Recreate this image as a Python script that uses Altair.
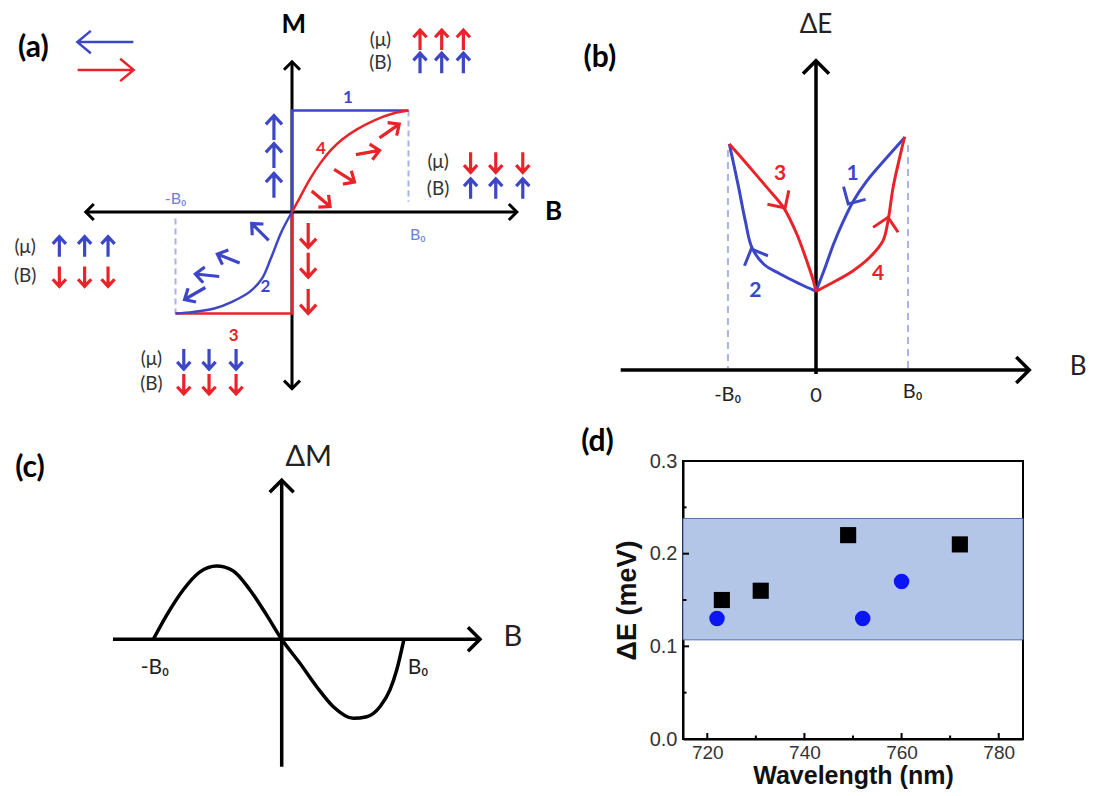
import altair as alt
import pandas as pd

BLUE = "#3d47c6"
RED = "#e8232a"
LIGHT = "#a9b4e4"
LIGHT_TXT = "#6f80d2"
INK = "#222222"
SANS = "Lato"
AXF = "Liberation Sans"

# ---------------- panel (a): M(B) hysteresis (units: B/B0, M/Ms) ----------------
A_AXIS_B = [-1.77, 1.93]
A_AXIS_M = [-1.74, 1.48]
A_BRANCH1_B = [0, 0, 1]
A_BRANCH1_M = [0, 1, 1]
A_BRANCH3_B = [0, 0, -1]
A_BRANCH3_M = [0, -1, -1]
A_BRANCH4_B = [0, 0.062, 0.155, 0.248, 0.341, 0.433, 0.557, 0.712, 0.867, 1.0]
A_BRANCH4_M = [0, 0.13, 0.326, 0.489, 0.619, 0.717, 0.814, 0.906, 0.97, 1.0]
A_BRANCH2_B = [0, -0.091, -0.182, -0.258, -0.364, -0.515, -0.667, -0.848, -1.0]
A_BRANCH2_M = [0, -0.197, -0.459, -0.656, -0.787, -0.885, -0.951, -0.984, -1.0]
A_DASH_B = [1, 1, -1, -1]
A_DASH_M = [1.0, 0.1, -0.065, -1.0]
A_DASH_ID = [0, 0, 1, 1]
A_RED_ARROW_B = [0.248, 0.449, 0.65, 0.836]
A_RED_ARROW_M = [0.13, 0.358, 0.586, 0.798]
A_RED_ARROW_ANG = [40, 32, 350, 325]
A_BLUE_ARROW_B = [-0.273, -0.545, -0.727, -0.833]
A_BLUE_ARROW_M = [-0.197, -0.459, -0.623, -0.803]
A_BLUE_ARROW_ANG = [225, 202, 186, 150]
A_UP_B = [-0.155, -0.155, -0.155]
A_UP_M = [0.83, 0.554, 0.26]
A_DOWN_B = [0.139, 0.139, 0.139]
A_DOWN_M = [-0.228, -0.521, -0.879]
A_NOTE_X = [0.759, 1.254, -2.291, -1.207]
A_NOTE_MU_Y = [1.694, 0.489, -0.342, -1.449]
A_NOTE_B_Y = [1.466, 0.228, -0.635, -1.694]
A_NOTE_ARROW_X = [[1.099, 1.285, 1.471], [1.533, 1.749, 1.981],
                  [-1.997, -1.78, -1.579], [-0.929, -0.712, -0.48]]
A_NOTE_MU_DIR = ["up", "down", "up", "down"]
A_NOTE_MU_COL = [RED, RED, BLUE, BLUE]
A_NOTE_B_DIR = ["up", "up", "down", "down"]
A_NOTE_B_COL = [BLUE, BLUE, RED, RED]
A_LEGEND_B = [-1.602, -1.6]
A_LEGEND_M = [1.674, 1.4]
A_LEGEND_DIR = ["left", "right"]
A_LEGEND_COL = [BLUE, RED]
A_NUM_TXT = ["1", "4", "2", "3"]
A_NUM_B = [0.48, 0.248, -0.227, -0.5]
A_NUM_M = [1.12, 0.619, -0.738, -1.22]
A_NUM_COL = [BLUE, RED, BLUE, RED]

# ---------------- panel (b): dE(B) ----------------
B_AXIS_B = [-2.123, 2.318]
B_AXIS_E = [-0.04, 3.093]
B_BR1_B = [0.964, 0.765, 0.549, 0.404, 0.296, 0.188, 0.097, 0]
B_BR1_E = [2.326, 2.12, 1.886, 1.686, 1.486, 1.253, 1.019, 0.787]
B_BR4_B = [0, 0.188, 0.404, 0.585, 0.729, 0.783, 0.838, 0.91, 0.964]
B_BR4_E = [0.787, 0.877, 0.993, 1.127, 1.293, 1.493, 1.826, 2.126, 2.333]
B_BR3_B = [-0.942, -0.751, -0.534, -0.354, -0.209, -0.101, -0.029, 0]
B_BR3_E = [2.26, 2.06, 1.826, 1.626, 1.36, 1.093, 0.893, 0.787]
B_BR2_B = [0, -0.173, -0.39, -0.57, -0.697, -0.769, -0.841, -0.895, -0.942]
B_BR2_E = [0.787, 0.86, 0.96, 1.06, 1.226, 1.493, 1.826, 2.06, 2.26]
B_DASH_B = [-0.957, -0.957, 1.0, 1.0]
B_DASH_E = [2.2, 0.02, 2.25, 0.02]
B_DASH_ID = [0, 0, 1, 1]
B_CHEV_B = [-0.336, 0.35, 0.783, -0.704]
B_CHEV_E = [1.62, 1.66, 1.527, 1.21]
B_CHEV_ANG = [57, 120, 281, 247]
B_CHEV_COL = [RED, BLUE, RED, BLUE]
B_NUM_TXT = ["3", "1", "2", "4"]
B_NUM_B = [-0.39, 0.397, -0.66, 0.675]
B_NUM_E = [1.96, 1.96, 0.793, 0.96]
B_NUM_COL = [RED, BLUE, BLUE, RED]
B_TICK_TXT = ["-B₀", "0", "B₀"]
B_TICK_B = [-0.96, 0.0, 1.05]
B_TICK_E = [-0.25, -0.26, -0.22]

# ---------------- panel (c): dM(B) ----------------
C_AXIS_B = [-1.35, 1.586]
C_AXIS_M = [-1.74, 2.17]
C_CURVE_B = [-1.027, -0.92, -0.79, -0.654, -0.52, -0.39, -0.254, -0.12, 0, 0.146,
             0.28, 0.413, 0.573, 0.68, 0.786, 0.866, 0.92, 0.978]
C_CURVE_M = [0, 0.33, 0.67, 0.92, 1.0, 0.936, 0.673, 0.33, 0, -0.327,
             -0.647, -0.92, -1.078, -1.056, -0.92, -0.69, -0.419, 0]

# ---------------- panel (d): measured splitting ----------------
D_SQ_WL = [723, 731, 749, 772]
D_SQ_DE = [0.15, 0.16, 0.22, 0.21]
D_CI_WL = [722, 752, 760]
D_CI_DE = [0.13, 0.13, 0.17]
D_BAND = [0.107, 0.238]
D_XTICKS = [720, 740, 760, 780]
D_XMINOR = [730, 750, 770]
D_YTICKS = [0.0, 0.1, 0.2, 0.3]
D_YINNER = [0.1, 0.2]
D_YMINOR = [0.05, 0.15, 0.25]

ANG = {"up": 270, "down": 90, "left": 180, "right": 0}
ARROW = "M-1,0L1,0M0.28,-0.66L1,0L0.28,0.66"
LEG_ARROW = "M-1,0L1,0M0.52,-0.4L1,0L0.52,0.4"
CHEV = "M-1,-1L0,0L-1,1"


def scales(w, h, ox, oy, ux, uy):
    sx = alt.Scale(domain=[-ox / ux, (w - ox) / ux], nice=False, zero=False)
    sy = alt.Scale(domain=[-(h - oy) / uy, oy / uy], nice=False, zero=False)
    return sx, sy


def enc(sx, sy):
    return dict(x=alt.X("x:Q", scale=sx, axis=None), y=alt.Y("y:Q", scale=sy, axis=None))


def line(xs, ys, sx, sy, color, width=3, interp="linear", dash=None, ids=None):
    df = pd.DataFrame({"x": xs, "y": ys, "i": list(range(len(xs))),
                       "g": ids if ids is not None else [0] * len(xs)})
    kw = dict(color=color, strokeWidth=width, interpolate=interp)
    if dash:
        kw["strokeDash"] = dash
    return alt.Chart(df).mark_line(**kw).encode(**enc(sx, sy), order="i:Q", detail="g:N")


def marks(xs, ys, angs, cols, sx, sy, shape, size, width=3):
    df = pd.DataFrame({"x": xs, "y": ys, "a": angs, "c": cols})
    return alt.Chart(df).mark_point(shape=shape, filled=False, size=size, strokeWidth=width,
                                    opacity=1, strokeJoin="miter").encode(
        **enc(sx, sy), angle=alt.Angle("a:Q", scale=None), color=alt.Color("c:N", scale=None))


def texts(ts, xs, ys, cols, sx, sy, size, weight="normal", font=SANS, align="center"):
    df = pd.DataFrame({"x": xs, "y": ys, "t": ts, "c": cols})
    return alt.Chart(df).mark_text(font=font, fontSize=size, fontWeight=weight, align=align,
                                   baseline="middle").encode(
        **enc(sx, sy), text="t:N", color=alt.Color("c:N", scale=None))


def axes(hx, vy, sx, sy, heads, hsize, width=3):
    hl = line(hx, [0, 0], sx, sy, "black", width)
    vl = line([0, 0], vy, sx, sy, "black", width)
    hxs = [p[0] for p in heads]
    hys = [p[1] for p in heads]
    ha = [p[2] for p in heads]
    return [hl, vl, marks(hxs, hys, ha, ["black"] * len(heads), sx, sy, CHEV, hsize, width)]


# grid: left column 675 px wide, right column 405 px; top row 451 px, bottom row 278 px
LW, RW = 675, 405
TH, BH_ = 451, 278

# ---------- panel (a) ----------
sxa, sya = scales(LW, TH, 284, 202, 116.5, 101.5)
note_tx, note_ty, note_tt = [], [], []
na_x, na_y, na_a, na_c = [], [], [], []
for k in range(4):
    note_tt += ["(μ)", "(B)"]
    note_tx += [A_NOTE_X[k], A_NOTE_X[k]]
    note_ty += [A_NOTE_MU_Y[k], A_NOTE_B_Y[k]]
    for xa in A_NOTE_ARROW_X[k]:
        na_x += [xa, xa]
        na_y += [A_NOTE_MU_Y[k], A_NOTE_B_Y[k]]
        na_a += [ANG[A_NOTE_MU_DIR[k]], ANG[A_NOTE_B_DIR[k]]]
        na_c += [A_NOTE_MU_COL[k], A_NOTE_B_COL[k]]

layers_a = []
layers_a += axes(A_AXIS_B, A_AXIS_M, sxa, sya,
                 [(A_AXIS_B[0], 0, 180), (A_AXIS_B[1], 0, 0), (0, A_AXIS_M[0], 90), (0, A_AXIS_M[1], 270)],
                 256, 3)
layers_a += [
    line(A_DASH_B, A_DASH_M, sxa, sya, LIGHT, 2, dash=[6, 4], ids=A_DASH_ID),
    line(A_BRANCH1_B, A_BRANCH1_M, sxa, sya, BLUE, 2.5),
    line(A_BRANCH3_B, A_BRANCH3_M, sxa, sya, RED, 2.5),
    line(A_BRANCH4_B, A_BRANCH4_M, sxa, sya, RED, 2.5, interp="catmull-rom"),
    line(A_BRANCH2_B, A_BRANCH2_M, sxa, sya, BLUE, 2.5, interp="catmull-rom"),
    marks(A_RED_ARROW_B, A_RED_ARROW_M, A_RED_ARROW_ANG, [RED] * 4, sxa, sya, ARROW, 576, 3.2),
    marks(A_BLUE_ARROW_B, A_BLUE_ARROW_M, A_BLUE_ARROW_ANG, [BLUE] * 4, sxa, sya, ARROW, 576, 3.2),
    marks(A_UP_B, A_UP_M, [270] * 3, [BLUE] * 3, sxa, sya, ARROW, 600, 3.2),
    marks(A_DOWN_B, A_DOWN_M, [90] * 3, [RED] * 3, sxa, sya, ARROW, 600, 3.2),
    marks(na_x, na_y, na_a, na_c, sxa, sya, ARROW, 400, 3.2),
    marks(A_LEGEND_B, A_LEGEND_M, [ANG[d] for d in A_LEGEND_DIR], A_LEGEND_COL, sxa, sya,
          LEG_ARROW, 3136, 2.5),
    texts(note_tt, note_tx, note_ty, ["#333333"] * 8, sxa, sya, 19),
    texts(A_NUM_TXT, A_NUM_B, A_NUM_M, A_NUM_COL, sxa, sya, 17, "bold"),
    texts(["-B₀", "B₀"], [-1.0, 1.08], [0.13, -0.228], [LIGHT_TXT] * 2, sxa, sya, 16),
    texts(["M", "B"], [0.015, 2.245], [1.84, 0.0], ["black"] * 2, sxa, sya, 26, "bold"),
    texts(["(a)"], [-2.22], [1.616], ["black"], sxa, sya, 30, "bold"),
]
panel_a = alt.layer(*layers_a).properties(width=LW, height=TH)

# ---------- panel (b) ----------
sxb, syb = scales(RW, TH, 133, 360, 92, 100)
layers_b = []
layers_b += [line(B_DASH_B, B_DASH_E, sxb, syb, LIGHT, 2, dash=[7, 5], ids=B_DASH_ID)]
layers_b += axes(B_AXIS_B, B_AXIS_E, sxb, syb, [(B_AXIS_B[1], 0, 0), (0, B_AXIS_E[1], 270)], 676, 3.5)
layers_b += [
    line(B_BR1_B, B_BR1_E, sxb, syb, BLUE, 3, interp="catmull-rom"),
    line(B_BR2_B, B_BR2_E, sxb, syb, BLUE, 3, interp="catmull-rom"),
    line(B_BR3_B, B_BR3_E, sxb, syb, RED, 3, interp="catmull-rom"),
    line(B_BR4_B, B_BR4_E, sxb, syb, RED, 3, interp="catmull-rom"),
    marks(B_CHEV_B, B_CHEV_E, B_CHEV_ANG, B_CHEV_COL, sxb, syb, CHEV, 650, 3),
    texts(B_NUM_TXT, B_NUM_B, B_NUM_E, B_NUM_COL, sxb, syb, 21, "bold"),
    texts(B_TICK_TXT, B_TICK_B, B_TICK_E, [INK] * 3, sxb, syb, 20),
    texts(["ΔE", "B"], [0.0, 2.85], [3.45, 0.03], [INK] * 2, sxb, syb, 26),
    texts(["(b)"], [-2.35], [3.12], ["black"], sxb, syb, 30, "bold"),
]
panel_b = alt.layer(*layers_b).properties(width=RW, height=TH)

# ---------- panel (c) ----------
sxc, syc = scales(LW, BH_, 273.7, 178.3, 125, 73.3)
layers_c = axes(C_AXIS_B, C_AXIS_M, sxc, syc, [(C_AXIS_B[1], 0, 0), (0, C_AXIS_M[1], 270)], 576, 3.5)
layers_c += [
    line(C_CURVE_B, C_CURVE_M, sxc, syc, "black", 3.5, interp="monotone"),
    texts(["-B₀", "B₀"], [-1.014, 1.09], [-0.39, -0.39], [INK] * 2, sxc, syc, 21),
    texts(["ΔM", "B"], [0.216, 1.85], [2.49, 0.03], [INK] * 2, sxc, syc, 29),
    texts(["(c)"], [-2.014], [2.34], ["black"], sxc, syc, 30, "bold"),
]
panel_c = alt.layer(*layers_c).properties(width=LW, height=BH_)

# ---------- panel (d) ----------
DW, DH = 340, BH_
xs = alt.Scale(domain=[715, 785], nice=False, zero=False)
ys = alt.Scale(domain=[0, 0.3], nice=False, zero=False)
xax = alt.Axis(values=D_XTICKS, ticks=False, grid=False, domainColor="black", domainWidth=2,
               labelFont=AXF, labelFontSize=19, labelColor="#333333", labelPadding=4,
               title="Wavelength (nm)", titleFont=AXF, titleFontSize=25, titleFontWeight="bold",
               titleColor="#111111", titlePadding=1)
yax = alt.Axis(values=D_YTICKS, format=".1f", ticks=False, grid=False, domainColor="black",
               domainWidth=2, labelFont=AXF, labelFontSize=20, labelColor="#333333", labelPadding=6,
               title="ΔE (meV)", titleFont=AXF, titleFontSize=27, titleFontWeight="bold",
               titleColor="#111111", titlePadding=8)


def dxy(df_x, df_y):
    return dict(x=alt.X(df_x, scale=xs, axis=xax), y=alt.Y(df_y, scale=ys, axis=yax))


band = alt.Chart(pd.DataFrame({"lo": [D_BAND[0]], "hi": [D_BAND[1]]})).mark_rect(
    fill="#b4c6e7", stroke="#4f6fae", strokeWidth=1).encode(
    y=alt.Y("lo:Q", scale=ys, axis=yax), y2="hi:Q", x=alt.value(0), x2=alt.value(DW))
sq = alt.Chart(pd.DataFrame({"w": D_SQ_WL, "e": D_SQ_DE})).mark_square(
    size=260, color="black", opacity=1).encode(**dxy("w:Q", "e:Q"))
ci = alt.Chart(pd.DataFrame({"w": D_CI_WL, "e": D_CI_DE})).mark_circle(
    size=240, color="#0b16f2", opacity=1).encode(**dxy("w:Q", "e:Q"))
xt_major = alt.Chart(pd.DataFrame({"w": D_XTICKS})).mark_rule(color="black", strokeWidth=2).encode(
    x=alt.X("w:Q", scale=xs, axis=xax), y=alt.value(DH), y2=alt.value(DH - 6))
xt_minor = alt.Chart(pd.DataFrame({"w": D_XMINOR})).mark_rule(color="black", strokeWidth=2).encode(
    x=alt.X("w:Q", scale=xs, axis=xax), y=alt.value(DH), y2=alt.value(DH - 3.5))
yt_major = alt.Chart(pd.DataFrame({"e": D_YINNER})).mark_rule(color="black", strokeWidth=2).encode(
    y=alt.Y("e:Q", scale=ys, axis=yax), x=alt.value(0), x2=alt.value(6))
yt_minor = alt.Chart(pd.DataFrame({"e": D_YMINOR})).mark_rule(color="black", strokeWidth=2).encode(
    y=alt.Y("e:Q", scale=ys, axis=yax), x=alt.value(0), x2=alt.value(3.5))
dlab = alt.Chart(pd.DataFrame({"w": [697.4], "e": [0.321], "t": ["(d)"]})).mark_text(
    font=SANS, fontSize=30, fontWeight="bold", color="black", baseline="middle").encode(
    **dxy("w:Q", "e:Q"), text="t:N")
panel_d = alt.layer(band, xt_major, xt_minor, yt_major, yt_minor, sq, ci, dlab).properties(
    width=DW, height=DH, view=alt.ViewBackground(stroke="black", strokeWidth=2))

chart = alt.concat(panel_a, panel_b, panel_c, panel_d, columns=2, spacing=0, bounds="flush").properties(
    padding={"top": 2, "left": 0, "right": 0, "bottom": 0}, background="white").configure_view(strokeWidth=0)

chart.save("out.html", embed_options={"renderer": "svg", "actions": False})
